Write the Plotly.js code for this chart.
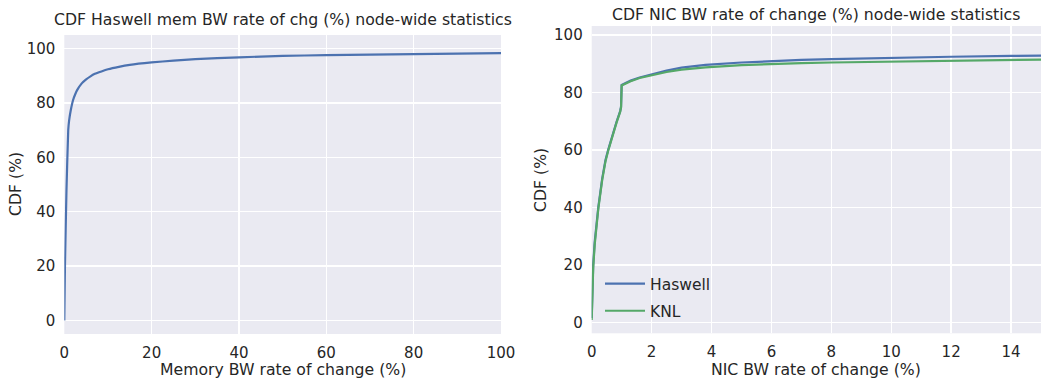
<!DOCTYPE html>
<html>
<head>
<meta charset="utf-8">
<script src="https://cdn.plot.ly/plotly-3.0.1.min.js"></script>
<style>
html,body{margin:0;padding:0;background:#fff;}
#chart{width:1042px;height:382px;}
</style>
</head>
<body>
<div id="chart"></div>
<script>
// Left panel: Haswell memory BW rate of change CDF
const memX = [0, 0.15, 0.5, 0.9, 1.1, 1.5, 2, 2.5, 3, 4, 5, 6, 7, 8.5, 10, 12.5, 15, 20, 25, 30, 40, 50, 60, 70, 80, 90, 100];
const memY = [0, 20, 48, 70, 73.5, 77.5, 81, 83.2, 84.9, 87.2, 88.7, 89.8, 90.7, 91.6, 92.4, 93.3, 94, 94.9, 95.6, 96.1, 96.8, 97.3, 97.6, 97.8, 98.0, 98.15, 98.3];

// Right panel: NIC BW rate of change CDF
const nicX = [0, 0.02, 0.05, 0.1, 0.16, 0.22, 0.35, 0.46, 0.55, 0.7, 0.83, 0.95, 0.98, 1.0, 1.15, 1.3, 1.6, 2, 2.5, 3, 3.8, 5, 6, 7, 8, 10, 12, 14, 15];
const nicHaswellY = [1.5, 12, 20, 28, 34.5, 40, 50, 56.5, 60, 65.5, 69.8, 73.5, 75, 82.6, 83.4, 84.1, 85.2, 86.3, 87.6, 88.6, 89.6, 90.4, 90.9, 91.3, 91.6, 92.1, 92.4, 92.7, 92.8];
const nicKnlY = [0.8, 11, 19, 27, 34, 39.5, 49.5, 56, 59.7, 65.2, 69.5, 73.2, 74.8, 82.4, 83.2, 83.9, 85, 86.0, 87.1, 87.9, 88.7, 89.5, 89.9, 90.2, 90.4, 90.7, 91.1, 91.3, 91.4];

const leftTicksX = [0, 20, 40, 60, 80, 100];
const rightTicksX = [0, 2, 4, 6, 8, 10, 12, 14];
const ticksY = [0, 20, 40, 60, 80, 100];

const titles = {
  left: "CDF Haswell mem BW rate of chg (%) node-wide statistics",
  right: "CDF NIC BW rate of change (%) node-wide statistics",
  leftX: "Memory BW rate of change (%)",
  rightX: "NIC BW rate of change (%)",
  y: "CDF (%)"
};

const blue = "#4c72b0", green = "#55a868";
const txt = "#262626";
const font = "DejaVu Sans, sans-serif";
const W = 1042, H = 382;

const traces = [
  {x: memX, y: memY, xaxis: "x", yaxis: "y", mode: "lines", line: {color: blue, width: 2.2, shape: "spline", smoothing: 0.4}, showlegend: false, hoverinfo: "skip"},
  {x: nicX, y: nicHaswellY, xaxis: "x2", yaxis: "y2", mode: "lines", name: "Haswell", legendgroup: "a", line: {color: blue, width: 2.2}},
  {x: nicX, y: nicKnlY, xaxis: "x2", yaxis: "y2", mode: "lines", name: "KNL", legendgroup: "b", line: {color: green, width: 2.2}}
];

const axBase = {
  showgrid: true, gridcolor: "#ffffff", gridwidth: 1.3, zeroline: false, showline: false,
  ticks: "outside", ticklen: 5, tickcolor: "rgba(0,0,0,0)",
  tickfont: {family: font, size: 15, color: txt}, fixedrange: true
};

const L = [64.3, 501], LY = [35, 334];
const R = [591.7, 1041], RY = [26, 333.3];
const fs = 15.7;

const layout = {
  width: W, height: H,
  margin: {l: 0, r: 0, t: 0, b: 0},
  paper_bgcolor: "#ffffff", plot_bgcolor: "#eaeaf2",
  font: {family: font, color: txt},
  xaxis: Object.assign({}, axBase, {domain: [L[0]/W, L[1]/W], range: [0, 100], tickvals: leftTicksX, anchor: "y"}),
  yaxis: Object.assign({}, axBase, {domain: [1 - LY[1]/H, 1 - LY[0]/H], range: [-5, 105], tickvals: ticksY, anchor: "x"}),
  xaxis2: Object.assign({}, axBase, {domain: [R[0]/W, R[1]/W], range: [0, 15], tickvals: rightTicksX, anchor: "y2"}),
  yaxis2: Object.assign({}, axBase, {domain: [1 - RY[1]/H, 1 - RY[0]/H], range: [-3.8, 103.1], tickvals: ticksY, anchor: "x2"}),
  showlegend: true,
  legend: {
    x: 600/W, y: 1 - 267/H, xanchor: "left", yanchor: "top",
    bgcolor: "rgba(0,0,0,0)", borderwidth: 0,
    font: {family: font, size: 15.5, color: txt},
    traceorder: "grouped", tracegroupgap: 4, itemwidth: 40
  },
  annotations: [
    {text: titles.left, x: (L[0]+L[1])/2/W, y: 1 - 20/H, xref: "paper", yref: "paper", xanchor: "center", yanchor: "middle", showarrow: false, font: {family: font, size: fs, color: txt}},
    {text: titles.right, x: (R[0]+R[1])/2/W, y: 1 - 15/H, xref: "paper", yref: "paper", xanchor: "center", yanchor: "middle", showarrow: false, font: {family: font, size: fs, color: txt}},
    {text: titles.leftX, x: (L[0]+L[1])/2/W, y: 1 - 369/H, xref: "paper", yref: "paper", xanchor: "center", yanchor: "middle", showarrow: false, font: {family: font, size: fs, color: txt}},
    {text: titles.rightX, x: (R[0]+R[1])/2/W, y: 1 - 369/H, xref: "paper", yref: "paper", xanchor: "center", yanchor: "middle", showarrow: false, font: {family: font, size: fs, color: txt}},
    {text: titles.y, x: 15/W, y: 1 - 184/H, xref: "paper", yref: "paper", xanchor: "center", yanchor: "middle", textangle: -90, showarrow: false, font: {family: font, size: fs, color: txt}},
    {text: titles.y, x: 541/W, y: 1 - 180/H, xref: "paper", yref: "paper", xanchor: "center", yanchor: "middle", textangle: -90, showarrow: false, font: {family: font, size: fs, color: txt}}
  ]
};

Plotly.newPlot("chart", traces, layout, {staticPlot: true, displayModeBar: false});
</script>
</body>
</html>
